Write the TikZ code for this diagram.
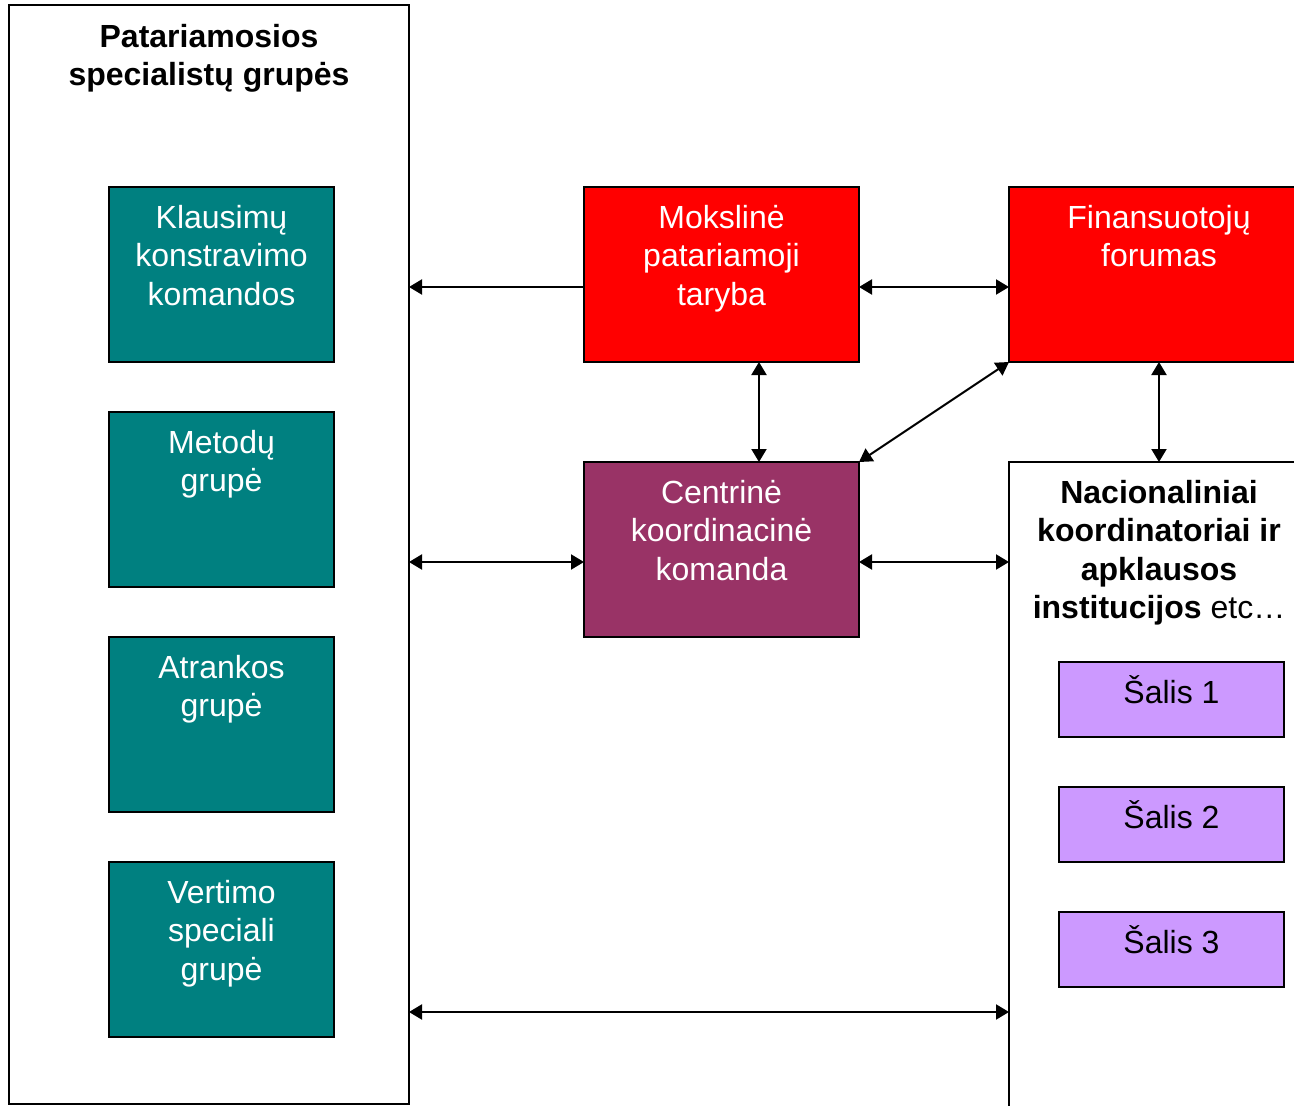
\documentclass[tikz,border=0pt]{standalone}
\usepackage{fontspec}
\setmainfont{Liberation Sans}
\usetikzlibrary{arrows.meta}
\definecolor{tealbox}{HTML}{008080}
\definecolor{redbox}{HTML}{FF0000}
\definecolor{plumbox}{HTML}{993366}
\definecolor{lilacbox}{HTML}{CC99FF}
\newcommand\tstrut{\rule{0pt}{34pt}}
\begin{document}
\begin{tikzpicture}[x=1pt,y=-1pt,
  box/.style={draw=black, line width=2pt, outer sep=0pt, inner sep=0pt},
  small/.style={box, minimum width=225pt, minimum height=175pt},
  mid/.style={box, minimum width=275pt, minimum height=175pt},
  txt/.style={anchor=north, inner sep=0pt, align=center, font=\fontsize{32}{38.5}\selectfont},
  conn/.style={line width=2pt, >={Triangle[length=13pt,width=15pt]}}
]
\useasboundingbox (0,0) rectangle (1294,1106);

% big containers
\node[box, fill=white, minimum width=400pt, minimum height=1099pt] (left) at (209,554.5) {};
\node[box, fill=white, minimum width=300pt, minimum height=660pt] (nac) at (1159,792) {};

% teal boxes
\node[small, fill=tealbox] (kl) at (221.5,274.5) {};
\node[small, fill=tealbox] (met) at (221.5,499.5) {};
\node[small, fill=tealbox] (atr) at (221.5,724.5) {};
\node[small, fill=tealbox] (ver) at (221.5,949.5) {};

% central boxes
\node[mid, fill=redbox] (mok) at (721.5,274.5) {};
\node[mid, fill=plumbox] (cen) at (721.5,549.5) {};
\node[box, fill=redbox, minimum width=300pt, minimum height=175pt] (fin) at (1159,274.5) {};

% country boxes
\node[box, fill=lilacbox, minimum width=225pt, minimum height=75pt] (s1) at (1171.5,699.5) {};
\node[box, fill=lilacbox, minimum width=225pt, minimum height=75pt] (s2) at (1171.5,824.5) {};
\node[box, fill=lilacbox, minimum width=225pt, minimum height=75pt] (s3) at (1171.5,949.5) {};

% texts
\node[txt] (left-t) at ([yshift=-8pt]left.north) {\tstrut\textbf{Patariamosios}\\\textbf{specialistų grupės}};
\node[txt, white] (kl-t) at ([yshift=-7pt]kl.north) {\tstrut Klausimų\\konstravimo\\komandos};
\node[txt, white] (met-t) at ([yshift=-7pt]met.north) {\tstrut Metodų\\grupė};
\node[txt, white] (atr-t) at ([yshift=-7pt]atr.north) {\tstrut Atrankos\\grupė};
\node[txt, white] (ver-t) at ([yshift=-7pt]ver.north) {\tstrut Vertimo\\speciali\\grupė};
\node[txt, white] (mok-t) at ([yshift=-7pt]mok.north) {\tstrut Mokslinė\\patariamoji\\taryba};
\node[txt, white] (cen-t) at ([yshift=-7pt]cen.north) {\tstrut Centrinė\\koordinacinė\\komanda};
\node[txt, white] (fin-t) at ([yshift=-7pt]fin.north) {\tstrut Finansuotojų\\forumas};
\node[txt] (nac-t) at ([yshift=-7pt]nac.north) {\tstrut\textbf{Nacionaliniai}\\\textbf{koordinatoriai ir}\\\textbf{apklausos}\\\textbf{institucijos} etc…};
\node[txt] (s1-t) at ([yshift=-7pt]s1.north) {\tstrut Šalis 1};
\node[txt] (s2-t) at ([yshift=-7pt]s2.north) {\tstrut Šalis 2};
\node[txt] (s3-t) at ([yshift=-7pt]s3.north) {\tstrut Šalis 3};

% connectors
\coordinate (row1) at (0,287);
\coordinate (row2) at (0,562);
\coordinate (row3) at (0,1012);
\coordinate (col1) at (759,0);
\draw[conn, <-] (left.east |- row1) -- (mok.west |- row1);
\draw[conn, <->] (mok.east |- row1) -- (fin.west |- row1);
\draw[conn, <->] (col1 |- mok.south) -- (col1 |- cen.north);
\draw[conn, <->] (cen.north east) -- (fin.south west);
\draw[conn, <->] (fin.south) -- (nac.north);
\draw[conn, <->] (left.east |- row2) -- (cen.west |- row2);
\draw[conn, <->] (cen.east |- row2) -- (nac.west |- row2);
\draw[conn, <->] (left.east |- row3) -- (nac.west |- row3);
\end{tikzpicture}
\end{document}
